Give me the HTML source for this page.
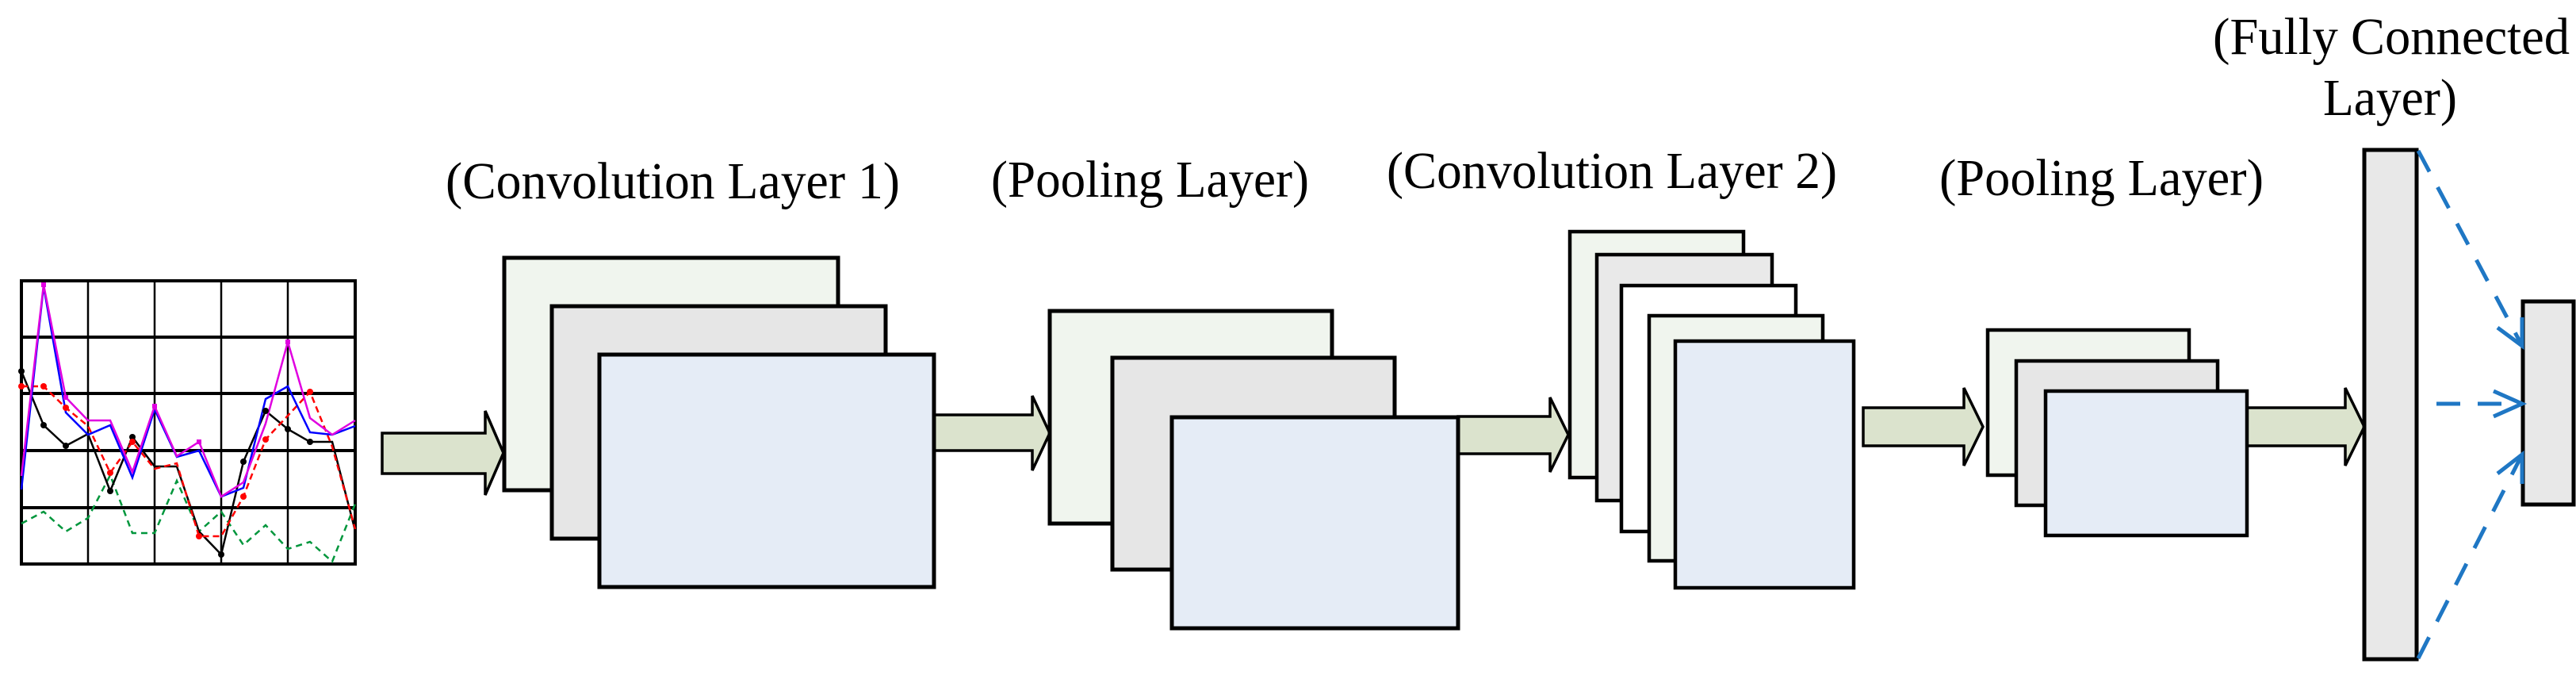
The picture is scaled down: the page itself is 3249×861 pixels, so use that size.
<!DOCTYPE html>
<html><head><meta charset="utf-8"><style>html,body{margin:0;padding:0;background:#fff}svg{display:block}</style></head>
<body>
<svg width="3249" height="861" viewBox="0 0 3249 861" xmlns="http://www.w3.org/2000/svg" font-family="'Liberation Serif', serif">
<!-- chart -->
<g>
<rect x="27" y="354" width="421" height="357" fill="#fff" stroke="#000" stroke-width="4"/>
<g stroke="#000" stroke-width="2.5">
<line x1="111" y1="354" x2="111" y2="711"/><line x1="195" y1="354" x2="195" y2="711"/>
<line x1="279" y1="354" x2="279" y2="711"/><line x1="363" y1="354" x2="363" y2="711"/>
</g>
<g stroke="#000" stroke-width="4">
<line x1="27" y1="425" x2="448" y2="425"/><line x1="27" y1="496" x2="448" y2="496"/>
<line x1="27" y1="568" x2="448" y2="568"/><line x1="27" y1="640" x2="448" y2="640"/>
</g>
<polyline fill="none" stroke="#00963c" stroke-width="2.5" stroke-dasharray="8,6" points="27,660 55,645 83,670 111,653 139,599 167,672 195,672 223,606 251,670 279,645 307,687 335,662 363,692 391,683 419,708 448,635"/>
<polyline fill="none" stroke="#000" stroke-width="2.5" points="27,468 55,536 83,562 111,547 139,619 167,551 195,588 223,588 251,670 279,699 307,582 335,518 363,541 391,557 419,557 448,669"/>
<polyline fill="none" stroke="#f00" stroke-width="2.5" stroke-dasharray="8,5" points="27,487 55,487 83,514 111,537 139,596 167,557 195,591 223,584 251,676 279,676 307,626 335,554 363,524 391,494 419,563 448,667"/>
<polyline fill="none" stroke="#00f" stroke-width="2.5" points="27,617 55,361 83,520 111,548 139,536 167,602 195,516 223,576 251,568 279,626 307,615 335,503 363,487 391,545 419,548 448,537"/>
<polyline fill="none" stroke="#e000e0" stroke-width="2.5" points="27,600 55,359 83,501 111,530 139,530 167,595 195,512 223,575 251,557 279,626 307,608 335,534 363,431 391,527 419,548 448,530"/>
<g fill="#000"><circle cx="27" cy="468" r="4"/><circle cx="55" cy="536" r="4"/><circle cx="83" cy="562" r="4"/><circle cx="167" cy="551" r="4"/><circle cx="139" cy="619" r="4"/><circle cx="279" cy="699" r="4"/><circle cx="307" cy="582" r="4"/><circle cx="335" cy="518" r="4"/><circle cx="363" cy="541" r="4"/><circle cx="391" cy="557" r="4"/></g>
<g fill="#f00"><circle cx="27" cy="487" r="4"/><circle cx="55" cy="487" r="4"/><circle cx="83" cy="514" r="4"/><circle cx="139" cy="596" r="4"/><circle cx="167" cy="557" r="4"/><circle cx="251" cy="676" r="4"/><circle cx="307" cy="626" r="4"/><circle cx="335" cy="554" r="4"/><circle cx="391" cy="494" r="4"/></g>
<g fill="#e000e0"><rect x="52" y="356" width="6" height="6"/><rect x="360" y="428" width="6" height="6"/><rect x="80" y="498" width="6" height="6"/><rect x="192" y="509" width="6" height="6"/><rect x="248" y="554" width="6" height="6"/></g>
</g>

<!-- arrows -->
<g fill="#dbe3cd" stroke="#000" stroke-width="3.5" stroke-linejoin="miter">
<polygon points="482,546 612,546 612,518 635,571 612,624 612,597 482,597"/>
<polygon points="1178,523 1302,523 1302,499 1324,546 1302,593 1302,568 1178,568"/>
<polygon points="1839,525 1955,525 1955,501 1978,548 1955,595 1955,572 1839,572"/>
<polygon points="2350,514 2477,514 2477,489 2501,538 2477,587 2477,562 2350,562"/>
<polygon points="2834,514 2958,514 2958,489 2982,538 2958,587 2958,562 2834,562"/>
</g>

<!-- conv1 -->
<g stroke="#000" stroke-width="5">
<rect x="636" y="325" width="421" height="293" fill="#f0f5ee"/>
<rect x="696" y="386" width="421" height="293" fill="#e6e6e6"/>
<rect x="756" y="447" width="422" height="293" fill="#e5ecf6"/>
</g>
<!-- pool1 -->
<g stroke="#000" stroke-width="5">
<rect x="1324" y="392" width="356" height="268" fill="#f0f5ee"/>
<rect x="1403" y="451" width="356" height="267" fill="#e6e6e6"/>
<rect x="1478" y="526" width="361" height="266" fill="#e5ecf6"/>
</g>
<!-- conv2 -->
<g stroke="#000" stroke-width="4.5">
<rect x="1980" y="292" width="219" height="310" fill="#f0f5ee"/>
<rect x="2014" y="321" width="221" height="310" fill="#e9e9e9"/>
<rect x="2045" y="360" width="220" height="310" fill="#ffffff"/>
<rect x="2080" y="398" width="219" height="309" fill="#f0f5ee"/>
<rect x="2113" y="430" width="225" height="311" fill="#e5ecf6"/>
</g>
<!-- pool2 -->
<g stroke="#000" stroke-width="4.5">
<rect x="2507" y="416" width="254" height="183" fill="#f0f5ee"/>
<rect x="2543" y="455" width="254" height="182" fill="#e6e6e6"/>
<rect x="2580" y="493" width="254" height="182" fill="#e5ecf6"/>
</g>
<!-- FC -->
<rect x="2982" y="189" width="66" height="642" fill="#e8e8e8" stroke="#000" stroke-width="5"/>
<rect x="3182" y="380" width="64" height="256" fill="#e8e8e8" stroke="#000" stroke-width="5"/>
<g stroke="#1f77c4" stroke-width="5" fill="none" stroke-dasharray="30,22">
<line x1="3050" y1="190" x2="3180" y2="434"/>
<line x1="3073" y1="509" x2="3180" y2="509"/>
<line x1="3050" y1="830" x2="3180" y2="575"/>
</g>
<g stroke="#1f77c4" stroke-width="5" fill="none">
<polyline points="3150,413 3181,436 3181,400"/>
<polyline points="3145,493 3181,509 3145,525"/>
<polyline points="3150,597 3181,573 3181,610"/>
</g>

<!-- labels -->
<g font-size="66" fill="#000">
<text x="562" y="250" textLength="573" lengthAdjust="spacingAndGlyphs">(Convolution Layer 1)</text>
<text x="1250" y="248" textLength="401" lengthAdjust="spacingAndGlyphs">(Pooling Layer)</text>
<text x="1749" y="237" textLength="568" lengthAdjust="spacingAndGlyphs">(Convolution Layer 2)</text>
<text x="2446" y="246" textLength="409" lengthAdjust="spacingAndGlyphs">(Pooling Layer)</text>
<text x="2791" y="68" textLength="450" lengthAdjust="spacingAndGlyphs">(Fully Connected</text>
<text x="2930" y="145" textLength="169" lengthAdjust="spacingAndGlyphs">Layer)</text>
</g>
</svg>
</body></html>
